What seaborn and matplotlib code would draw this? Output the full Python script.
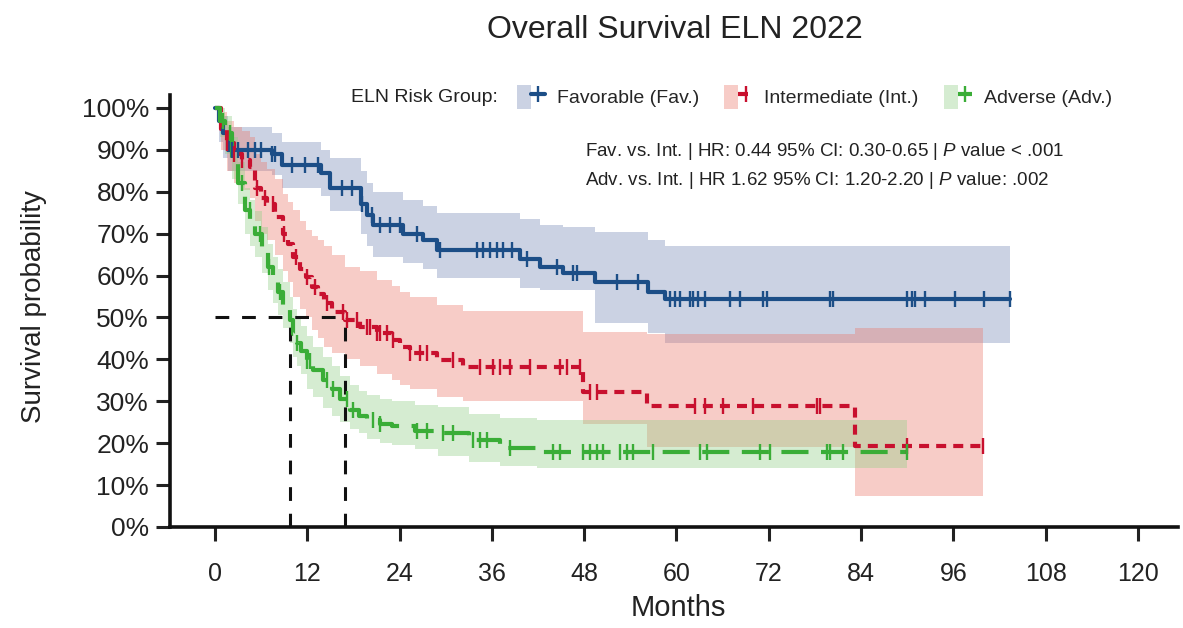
import numpy as np
import pandas as pd
import matplotlib
matplotlib.use("Agg")
import matplotlib.pyplot as plt
from matplotlib import font_manager
from matplotlib.patches import Patch
from matplotlib.lines import Line2D
from matplotlib.legend_handler import HandlerTuple
import seaborn as sns

# ---------------------------------------------------------------- data
groups = ["Favorable (Fav.)", "Intermediate (Int.)", "Adverse (Adv.)"]

# Kaplan-Meier step points (months, survival %), with 95% CI bounds
fav_t = [0, 0.5, 1.0, 1.7, 7.4, 8.7, 13.8, 15.0, 19.0, 19.8, 20.5, 24.5, 27.0,
         28.9, 39.7, 42.3, 45.3, 49.4, 56.3, 58.5, 103.4]
fav_s = [100, 97, 94, 90, 89, 86.5, 84.5, 81, 77, 74.5, 72, 70, 68.5,
         66, 64, 62, 60.5, 58.5, 56, 54.5, 54.5]
fav_hi = [100, 100, 98, 95.5, 94, 92, 90, 88, 85, 82, 80, 78, 76.5,
          75, 73.5, 72, 71.5, 70.5, 68.5, 67, 67]
fav_lo = [100, 92, 88, 85, 84, 81, 79, 75.5, 70, 67, 64.5, 63, 61.5,
          59.5, 57, 56.5, 56.5, 48.7, 46.3, 44, 44]

int_t = [0, 0.8, 1.5, 2.5, 3.5, 4.5, 5.2, 6.0, 6.8, 7.8, 8.8, 9.5, 10.2, 11.0,
         11.8, 12.6, 13.4, 14.2, 15.2, 16.9, 18.9, 21.0, 23.0, 24.0, 25.4, 28.9,
         32.3, 47.9, 56.2, 83.2, 99.9]
int_s = [100, 95, 91.6, 89, 87.6, 86, 81, 78.5, 77, 74, 70, 67.5, 64.4, 61.5,
         59.7, 57.3, 55.5, 53.5, 51.2, 49.5, 47.7, 46.3, 44.6, 43, 41.5, 39.9,
         38.2, 32.2, 28.8, 19.3, 19.3]
int_hi = [100, 99, 97, 95.5, 94.5, 93, 89, 87, 85.5, 83, 79.5, 77.5, 75.6, 73,
          71, 69.5, 68.5, 67, 65, 62, 61, 59, 57.5, 56, 55, 53,
          51.5, 46.5, 46, 47.5, 47.5]
int_lo = [100, 90, 85, 82, 80.5, 78.5, 73, 70, 68.5, 65, 61, 58.5, 55, 52,
          50, 47, 45, 43, 41.5, 40, 38.5, 36.5, 35, 34, 33, 31,
          30, 24.5, 19, 7.5, 7.5]

adv_t = [0, 0.6, 1.3, 2.2, 3.0, 3.9, 4.6, 5.2, 6.1, 6.9, 7.6, 8.2, 8.9, 9.8,
         10.2, 10.7, 11.2, 12.0, 12.8, 14.0, 15.2, 16.3, 17.6, 18.7, 19.8, 21.5,
         23.0, 26.0, 29.0, 33.0, 37.0, 41.9, 90.0]
adv_s = [100, 97, 94, 88, 82, 75.6, 72.5, 70, 66, 62, 59, 56, 53, 49.5,
         46, 44, 42, 39.5, 37.5, 35, 33, 30.5, 28, 26.5, 25.5, 24.5,
         24, 23, 22.4, 20.8, 18.9, 18, 18]
adv_hi = [100, 100, 98, 93, 87, 81, 78, 75.5, 71.5, 67.5, 64.5, 61.5, 58.5, 55,
          52, 50, 48, 45.5, 43, 40.5, 38.5, 36, 34, 32.5, 31.5, 30.5,
          30, 29, 28.6, 27, 26, 25.5, 25]
adv_lo = [100, 93, 89, 83, 77, 70, 67, 64.5, 60.5, 56.5, 53.5, 50.5, 47.5, 44,
          40.5, 38.5, 36.5, 33, 31, 28.5, 26.5, 25, 23.5, 22.5, 21, 20,
          19.5, 18.5, 17, 15.5, 14.5, 14, 13]

# censoring times (months)
fav_cens = [2.2, 3.0, 4.3, 5.2, 6.0, 7.4, 7.8, 10.0, 11.7, 13.4, 16.5, 17.8, 19.1,
            20.4, 21.5, 22.8, 24.0, 26.3, 29.3, 34.0, 34.9, 35.8, 36.7, 37.5, 38.6,
            40.6, 44.5, 46.6, 47.0, 52.3, 55.0, 59.2, 59.8, 60.5, 61.8, 62.2, 62.8,
            63.7, 67.0, 68.3, 71.3, 71.8, 80.0, 80.4, 90.0, 90.6, 91.0, 92.3, 96.2,
            100.0, 103.4]
int_cens = [1.5, 2.5, 3.5, 5.5, 6.5, 7.5, 9.0, 10.5, 12.0, 13.0, 14.5, 16.6, 17.2,
            18.5, 19.8, 20.2, 21.0, 21.5, 22.4, 23.1, 25.4, 26.7, 27.6, 31.0, 34.5,
            36.2, 37.0, 38.4, 41.0, 44.9, 45.8, 47.5, 48.8, 49.7, 62.4, 63.7, 66.0,
            70.0, 78.3, 78.7, 90.0, 99.9]
adv_cens = [1.0, 2.0, 3.5, 4.5, 5.8, 7.0, 8.5, 10.7, 12.0, 12.4, 14.5, 15.3, 17.2,
            18.0, 20.5, 21.5, 26.3, 27.6, 29.6, 31.0, 33.6, 34.5, 35.4, 38.4, 44.0,
            44.9, 47.9, 48.8, 49.7, 50.5, 52.7, 53.6, 54.4, 57.0, 63.0, 64.0, 70.9,
            72.2, 79.6, 80.0, 81.7, 90.0]

x_ticks = [0, 12, 24, 36, 48, 60, 72, 84, 96, 108, 120]
y_ticks = [0, 10, 20, 30, 40, 50, 60, 70, 80, 90, 100]
y_tick_labels = [f"{v}%" for v in y_ticks]

stats_lines = [
    r"Fav. vs. Int. | HR: 0.44 95% CI: 0.30-0.65 | $P$ value < .001",
    r"Adv. vs. Int. | HR 1.62 95% CI: 1.20-2.20 | $P$ value: .002",
]

# ---------------------------------------------------------------- styling
line_colors = {"Favorable (Fav.)": "#1c4e87",
               "Intermediate (Int.)": "#c8102e",
               "Adverse (Adv.)": "#3aad37"}
fill_colors = {"Favorable (Fav.)": ("#7f8fbb", 0.40),
               "Intermediate (Int.)": ("#ea7a6e", 0.38),
               "Adverse (Adv.)": ("#91cf87", 0.38)}
dash_map = {"Favorable (Fav.)": "",
            "Intermediate (Int.)": (2.4, 1.7),
            "Adverse (Adv.)": (6.5, 3.0)}

sns.set_theme(style="ticks")
installed = {f.name for f in font_manager.fontManager.ttflist}
narrow = "Liberation Sans Narrow" if "Liberation Sans Narrow" in installed else "Liberation Sans"
plt.rcParams["font.family"] = ["Liberation Sans", "DejaVu Sans"]
plt.rcParams["mathtext.fontset"] = "custom"
plt.rcParams["mathtext.it"] = f"{narrow}:italic"
plt.rcParams["mathtext.rm"] = narrow

series = {
    "Favorable (Fav.)": (fav_t, fav_s, fav_hi, fav_lo, fav_cens),
    "Intermediate (Int.)": (int_t, int_s, int_hi, int_lo, int_cens),
    "Adverse (Adv.)": (adv_t, adv_s, adv_hi, adv_lo, adv_cens),
}

frames = []
for g, (t, s, hi, lo, _) in series.items():
    frames.append(pd.DataFrame({"month": t, "surv": s, "hi": hi, "lo": lo, "group": g}))
df = pd.concat(frames, ignore_index=True)

fig = plt.figure(figsize=(11.83, 6.28), dpi=100)
ax = fig.add_axes([170 / 1183, 1 - 527 / 628, (1178 - 170) / 1183, (527 - 95) / 628])

# confidence bands
for g in groups:
    sub = df[df["group"] == g]
    fc, fa = fill_colors[g]
    ax.fill_between(sub["month"], sub["lo"], sub["hi"], step="post",
                    color=fc, alpha=fa, lw=0, zorder=1)

# median survival guides
def median_time(t, s):
    s = np.asarray(s)
    return float(np.asarray(t)[np.argmax(s <= 50)])

med_adv = median_time(adv_t, adv_s)
med_int = median_time(int_t, int_s)
guide_kw = dict(color="#111111", lw=2.2, dashes=(4.5, 4.2), zorder=2)
ax.plot([0, med_int], [50, 50], **guide_kw)
ax.plot([med_adv, med_adv], [0, 50], **guide_kw)
ax.plot([med_int, med_int], [0, 50], **guide_kw)

# survival curves
sns.lineplot(data=df, x="month", y="surv", hue="group", style="group",
             hue_order=groups, style_order=groups, palette=line_colors,
             dashes=dash_map, drawstyle="steps-post", estimator=None, sort=False,
             lw=3, legend=False, ax=ax, zorder=3)

# censor marks
for g, (t, s, _, _, cens) in series.items():
    idx = np.searchsorted(np.asarray(t), np.asarray(cens), side="right") - 1
    cy = np.asarray(s)[idx]
    ax.plot(cens, cy, ls="none", marker="|", ms=11, mew=1.7,
            color=line_colors[g], zorder=4)

# axes
ax.set_xlim(-5.85, 125.2)
ax.set_ylim(0, 103.1)
ax.set_xticks(x_ticks)
ax.set_xticklabels([str(v) for v in x_ticks], fontfamily=narrow, fontsize=18)
ax.set_yticks(y_ticks)
ax.set_yticklabels(y_tick_labels, fontsize=19)
ax.tick_params(axis="x", length=10, width=2.2, pad=15, colors="#222222")
ax.tick_params(axis="y", length=10, width=2.2, pad=5, colors="#222222")
for side in ("left", "bottom"):
    ax.spines[side].set_linewidth(2.6)
    ax.spines[side].set_color("#111111")
sns.despine(ax=ax)

ax.set_xlabel("Months", fontfamily=narrow, fontsize=21, color="#222222")
ax.set_ylabel("Survival probability", fontfamily=narrow, fontsize=20, color="#222222")
ax.xaxis.set_label_coords(0.504, -0.155)
ax.yaxis.set_label_coords(-0.122, 0.51)

for i, line in enumerate(stats_lines):
    ax.text(48.1, 89.5 - 6.7 * i, line, fontfamily=narrow, fontsize=13.5,
            color="#222222", va="center", ha="left")

fig.text(675 / 1183, 1 - 30 / 628, "Overall Survival ELN 2022",
         ha="center", va="center", fontsize=23, color="#222222")

# legend
handles = []
for g in groups:
    fc, fa = fill_colors[g]
    dash = dash_map[g]
    ln = Line2D([], [], color=line_colors[g], lw=3, marker="|", ms=12, mew=1.7)
    if dash:
        ln.set_dashes(dash)
    handles.append((Patch(facecolor=fc, alpha=fa, edgecolor="none"), ln))
fig.legend(handles, groups, handler_map={tuple: HandlerTuple(ndivide=None, pad=0)},
           ncol=3, loc="center left", bbox_to_anchor=(517 / 1183, 1 - 97 / 628),
           frameon=False, borderpad=0, borderaxespad=0, handlelength=1.45,
           handleheight=1.45, handletextpad=0.6, columnspacing=1.3,
           prop={"family": narrow, "size": 14})
fig.text(498 / 1183, 1 - 97 / 628, "ELN Risk Group:", ha="right", va="center",
         fontfamily=narrow, fontsize=14, color="#222222")

fig.savefig("out.png", dpi=100)
